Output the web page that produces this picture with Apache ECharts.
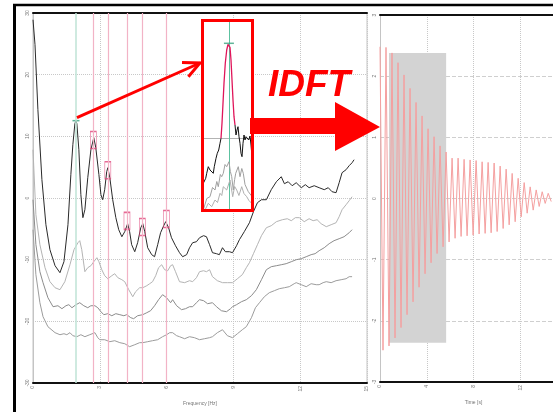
<!DOCTYPE html>
<html>
<head>
<meta charset="utf-8">
<script src="https://cdn.jsdelivr.net/npm/echarts/dist/echarts.min.js"></script>
<style>
html,body{margin:0;padding:0;background:#fff}
#c{width:553px;height:412px}
</style>
</head>
<body>
<div id="c"></div>
<script>
// ---- spectra: [frequency Hz, level dB] ----
const specTop = [[0,28.91],[0.09,24.86],[0.22,14.32],[0.40,2.97],[0.58,-4.33],[0.76,-8.38],[0.99,-10.98],[1.21,-12.11],[1.39,-10.33],[1.57,-4.33],[1.70,3.78],[1.79,8.64],[1.88,12.05],[1.93,12.54],[1.97,12.05],[2.06,7.83],[2.15,0.54],[2.24,-3.19],[2.33,-1.90],[2.46,3.29],[2.60,7.83],[2.73,9.78],[2.82,8.16],[2.96,3.78],[3.05,0.54],[3.13,-0.28],[3.22,1.35],[3.31,4.26],[3.36,4.91],[3.45,3.29],[3.58,-0.28],[3.72,-3.19],[3.85,-5.14],[3.99,-6.28],[4.12,-5.46],[4.25,-4.17],[4.34,-5.46],[4.43,-7.57],[4.57,-8.71],[4.70,-7.25],[4.84,-4.82],[4.93,-4.17],[5.02,-5.46],[5.15,-8.06],[5.33,-9.19],[5.46,-9.52],[5.60,-7.57],[5.73,-5.63],[5.87,-4.49],[5.96,-3.84],[6.09,-4.82],[6.22,-6.44],[6.40,-7.74],[6.58,-8.87],[6.72,-9.52],[6.90,-9.19],[7.03,-8.06],[7.17,-7.25],[7.34,-7.09],[7.48,-6.44],[7.66,-6.11],[7.79,-6.28],[7.93,-7.57],[8.06,-8.87],[8.24,-9.03],[8.37,-9.19],[8.51,-8.06],[8.64,-8.71],[8.82,-8.71],[8.96,-8.87],[9.14,-7.74],[9.27,-6.76],[9.49,-5.46],[9.72,-4.01],[9.90,-2.22],[10.08,-0.76],[10.26,-0.28],[10.48,-0.28],[10.70,1.35],[10.93,2.64],[11.15,3.45],[11.29,2.32],[11.46,2.64],[11.64,1.99],[11.82,2.48],[12.05,1.67],[12.23,2.16],[12.40,1.67],[12.63,1.99],[12.85,1.67],[13.08,1.35],[13.26,1.67],[13.43,1.02],[13.61,0.86],[13.75,2.48],[13.88,4.10],[14.06,4.59],[14.20,5.24],[14.33,5.72],[14.42,6.21]];

const specB = [[0,7.83],[0.13,-2.71],[0.31,-7.57],[0.54,-11.30],[0.76,-13.57],[0.99,-14.55],[1.21,-14.87],[1.43,-13.57],[1.66,-10.82],[1.84,-8.38],[2.02,-7.25],[2.10,-6.92],[2.19,-8.38],[2.33,-11.95],[2.46,-11.30],[2.60,-10.98],[2.73,-10.33],[2.87,-9.68],[2.96,-10.33],[3.09,-11.63],[3.22,-12.60],[3.36,-13.09],[3.54,-12.60],[3.67,-12.28],[3.81,-12.92],[3.99,-13.25],[4.12,-13.57],[4.30,-14.87],[4.48,-16.01],[4.61,-15.19],[4.79,-14.55],[4.93,-14.55],[5.11,-14.22],[5.24,-13.90],[5.37,-13.57],[5.51,-12.60],[5.64,-11.30],[5.78,-10.82],[5.91,-11.63],[6.05,-11.79],[6.18,-10.98],[6.27,-10.82],[6.40,-11.95],[6.58,-13.57],[6.81,-13.73],[7.03,-13.41],[7.17,-13.57],[7.34,-12.92],[7.48,-11.95],[7.66,-11.79],[7.79,-11.95],[7.93,-11.63],[8.06,-12.76],[8.28,-13.41],[8.51,-13.73],[8.73,-13.73],[8.96,-13.73],[9.18,-13.09],[9.40,-12.44],[9.58,-11.30],[9.72,-10.49],[9.90,-9.03],[10.08,-7.57],[10.26,-6.11],[10.48,-4.82],[10.70,-4.49],[10.93,-3.84],[11.20,-3.52],[11.42,-3.36],[11.60,-3.68],[11.78,-3.19],[11.96,-3.19],[12.18,-3.84],[12.40,-3.36],[12.58,-3.68],[12.76,-3.52],[12.94,-4.17],[13.17,-4.65],[13.39,-4.33],[13.61,-4.01],[13.75,-3.03],[13.88,-1.90],[14.06,-1.09],[14.20,-0.44],[14.33,0.21]];

const specC = [[0,-0.28],[0.13,-7.57],[0.31,-11.95],[0.45,-13.73],[0.67,-16.17],[0.90,-17.63],[1.12,-17.47],[1.30,-17.95],[1.48,-17.47],[1.61,-17.30],[1.75,-17.79],[1.93,-17.30],[2.10,-16.98],[2.28,-17.47],[2.46,-17.79],[2.60,-17.47],[2.78,-17.47],[2.91,-17.79],[3.05,-18.44],[3.18,-18.92],[3.36,-18.76],[3.54,-19.09],[3.72,-18.76],[3.90,-18.92],[4.08,-19.09],[4.21,-18.92],[4.39,-19.41],[4.52,-19.57],[4.70,-19.09],[4.93,-18.92],[5.11,-18.60],[5.28,-18.28],[5.46,-17.47],[5.64,-16.49],[5.82,-15.68],[6.00,-16.17],[6.18,-16.98],[6.27,-16.49],[6.45,-17.47],[6.67,-18.11],[6.85,-17.95],[7.03,-17.63],[7.17,-17.63],[7.34,-16.98],[7.48,-16.49],[7.66,-16.65],[7.84,-17.14],[8.06,-16.98],[8.24,-17.63],[8.46,-18.28],[8.69,-18.44],[8.87,-17.95],[8.96,-17.63],[9.14,-17.30],[9.36,-16.82],[9.58,-16.49],[9.81,-15.84],[10.03,-14.87],[10.26,-13.25],[10.48,-11.63],[10.70,-11.14],[10.93,-10.98],[11.15,-10.82],[11.37,-10.65],[11.60,-10.33],[11.82,-10.01],[12.05,-9.84],[12.27,-9.52],[12.49,-9.19],[12.67,-9.03],[12.85,-8.55],[13.08,-8.06],[13.30,-7.41],[13.52,-6.92],[13.75,-6.60],[13.97,-6.28],[14.20,-5.63],[14.33,-5.14]];

const specD = [[0,-5.14],[0.13,-12.44],[0.31,-16.98],[0.45,-19.25],[0.67,-20.87],[0.99,-21.84],[1.21,-22.17],[1.39,-22.01],[1.52,-22.17],[1.66,-21.84],[1.79,-22.33],[1.97,-22.49],[2.15,-22.17],[2.33,-22.49],[2.55,-22.17],[2.78,-21.84],[2.91,-22.65],[3.00,-22.98],[3.22,-22.98],[3.45,-23.30],[3.67,-23.14],[3.90,-23.46],[4.12,-23.63],[4.34,-24.11],[4.57,-23.79],[4.79,-23.46],[4.93,-23.46],[5.15,-23.30],[5.37,-23.14],[5.60,-22.98],[5.82,-22.49],[6.00,-22.17],[6.14,-21.84],[6.27,-21.84],[6.45,-22.33],[6.58,-22.49],[6.81,-22.82],[7.03,-22.49],[7.25,-22.65],[7.48,-22.98],[7.70,-22.82],[7.93,-22.65],[8.06,-22.49],[8.28,-21.84],[8.51,-21.36],[8.73,-22.33],[8.96,-22.65],[9.18,-22.01],[9.40,-21.36],[9.58,-20.87],[9.81,-19.41],[9.99,-17.79],[10.17,-16.98],[10.39,-16.01],[10.61,-15.36],[10.84,-15.03],[11.06,-14.71],[11.29,-14.55],[11.51,-14.38],[11.73,-13.90],[11.82,-13.73],[12.05,-14.06],[12.27,-14.38],[12.49,-13.90],[12.72,-14.06],[12.85,-14.06],[13.03,-13.73],[13.17,-13.57],[13.39,-13.73],[13.61,-13.41],[13.84,-13.25],[14.06,-13.09],[14.20,-12.76],[14.33,-12.76]];

// selected mode and its neighbouring peaks
const selectedFreq = 1.93;
const selectedLevel = 12.54;
const peakFreqs  = [2.71, 3.36, 4.22, 4.91, 5.99];
const peakLevels = [9.4, 4.5, -3.7, -4.7, -3.4];

// ---- zoomed view around the selected mode ----
const zoomLeft  = [[1.571,2.72],[1.605,3.22],[1.619,3.72],[1.641,4.38],[1.665,4.05],[1.689,4.22],[1.711,3.72],[1.725,4.38],[1.749,5.22],[1.767,5.72],[1.787,6.05],[1.805,6.72],[1.819,7.22]];
const zoomPeak  = [[1.819,7.22],[1.833,8.72],[1.847,10.72],[1.861,12.72],[1.879,14.72],[1.899,16.05],[1.917,16.62],[1.931,16.72],[1.945,16.32],[1.959,15.05],[1.973,13.05],[1.987,11.05],[2.001,9.38],[2.015,8.55]];
const zoomRight = [[2.015,8.55],[2.029,7.55],[2.043,8.05],[2.057,8.38],[2.071,7.38],[2.085,6.72],[2.099,5.72],[2.113,5.38],[2.127,6.72],[2.141,7.55],[2.155,7.05],[2.169,7.38],[2.187,7.55],[2.207,7.05],[2.225,7.45],[2.239,6.55],[2.253,5.38]];
const zoomGrayA = [[1.571,0.05],[1.62,1.2],[1.665,1.38],[1.70,2.3],[1.735,2.05],[1.76,2.9],[1.781,2.38],[1.81,3.6],[1.829,3.38],[1.851,3.72],[1.875,4.6],[1.899,4.38],[1.931,4.88],[1.95,3.9],[1.969,3.38],[1.991,2.05],[2.01,3.1],[2.025,3.72],[2.061,4.38],[2.085,3.38],[2.11,4.2],[2.131,3.72],[2.155,2.6],[2.179,2.72],[2.20,1.9],[2.225,2.05],[2.255,1.38]];
const zoomGrayB = [[1.595,0.05],[1.641,0.72],[1.689,0.38],[1.735,1.05],[1.77,0.8],[1.805,1.72],[1.83,1.5],[1.851,2.38],[1.899,2.05],[1.945,3.05],[1.983,1.38],[2.01,2.4],[2.039,2.05],[2.07,1.5],[2.109,2.38],[2.14,1.7],[2.179,1.38],[2.21,1.0],[2.249,0.72]];
const zoomGuide = 7.25;

// ---- reconstructed time signal (IDFT of the selected peak) ----
const halfPeriod = 0.257;   // s, half cycle of the 1.93 Hz mode
const crestValues  = [2.48,2.47,2.38,2.22,2.02,1.80,1.57,1.35,1.14,1.01,0.86,0.76,0.66,0.66,0.64,0.63,0.62,0.60,0.59,0.58,0.53,0.48,0.41,0.33,0.26,0.19,0.14,0.11,0.085];
const troughValues = [-2.48,-2.41,-2.28,-2.11,-1.90,-1.69,-1.45,-1.23,-1.05,-0.90,-0.79,-0.71,-0.65,-0.62,-0.61,-0.60,-0.58,-0.57,-0.56,-0.54,-0.49,-0.43,-0.38,-0.30,-0.24,-0.19,-0.13,-0.08,-0.05];
const fitWindow = {t0: 0.77, t1: 5.66, lo: -2.36, hi: 2.38};

const signal = [];
crestValues.forEach((c, k) => {
  signal.push([2 * k * halfPeriod, c]);
  signal.push([(2 * k + 1) * halfPeriod, troughValues[k]]);
});

const FONT = 'Liberation Sans';
const tinyLabel = {rotate: 90, fontSize: 5, color: '#777', fontFamily: FONT, margin: 3};

const chart = echarts.init(document.getElementById('c'), null, {renderer: 'canvas'});

const option = {
  animation: false,
  backgroundColor: '#fff',
  grid: [
    {left: 33, width: 334, top: 13, height: 370, show: true, borderColor: '#c4c4c4', borderWidth: 1,
     outerBoundsMode: 'none', containLabel: false},
    {left: 380, width: 187, top: 15, height: 367, show: false,
     outerBoundsMode: 'none', containLabel: false},
    {left: 202.5, top: 20.5, width: 50, height: 190, show: true, z: 5, backgroundColor: '#fff', borderWidth: 0,
     outerBoundsMode: 'none', containLabel: false}
  ],
  xAxis: [
    {gridIndex: 0, type: 'value', min: 0, max: 15, interval: 3, position: 'bottom',
     axisLine: {onZero: false, lineStyle: {color: '#111', width: 2}}, axisTick: {show: false},
     axisLabel: tinyLabel,
     splitLine: {show: true, lineStyle: {color: '#c8c8c8', type: 'dotted'}},
     name: 'Frequency [Hz]', nameLocation: 'middle', nameGap: 18,
     nameTextStyle: {fontSize: 5, color: '#777', fontFamily: FONT}},
    {gridIndex: 0, type: 'value', min: 0, max: 15, position: 'top',
     axisLine: {show: true, onZero: false, lineStyle: {color: '#111', width: 2}}, axisTick: {show: false},
     axisLabel: {show: false}, splitLine: {show: false}},
    {gridIndex: 1, type: 'value', min: 0, max: 16, interval: 4, position: 'bottom',
     axisLine: {onZero: false, lineStyle: {color: '#111', width: 2}}, axisTick: {show: false},
     axisLabel: tinyLabel,
     splitLine: {show: true, lineStyle: {color: '#c8c8c8', type: 'dotted'}},
     name: 'Time [s]', nameLocation: 'middle', nameGap: 18,
     nameTextStyle: {fontSize: 5, color: '#777', fontFamily: FONT}},
    {gridIndex: 1, type: 'value', min: 0, max: 16, position: 'top',
     axisLine: {show: true, onZero: false, lineStyle: {color: '#111', width: 2}}, axisTick: {show: false},
     axisLabel: {show: false}, splitLine: {show: false}},
    {gridIndex: 2, type: 'value', min: 1.56, max: 2.26, show: false}
  ],
  yAxis: [
    {gridIndex: 0, type: 'value', min: -30, max: 30, interval: 10,
     axisLine: {show: true, onZero: false, lineStyle: {color: '#c4c4c4'}}, axisTick: {show: false},
     axisLabel: tinyLabel,
     splitLine: {show: true, lineStyle: {color: '#c8c8c8', type: 'dotted'}}},
    {gridIndex: 1, type: 'value', min: -3, max: 3, interval: 1,
     axisLine: {show: true, onZero: false, lineStyle: {color: '#c4c4c4'}}, axisTick: {show: false},
     axisLabel: tinyLabel,
     splitLine: {show: true, lineStyle: {color: '#cfcfcf', type: 'dashed'}}},
    {gridIndex: 2, type: 'value', min: 0, max: 19, show: false}
  ],
  series: [
    // mode guide lines on the spectrum
    {type: 'line', xAxisIndex: 0, yAxisIndex: 0, data: [], z: 1, silent: true,
     markLine: {symbol: 'none', silent: true, label: {show: false},
       data: [{xAxis: selectedFreq, lineStyle: {color: '#bfe3d6', width: 1.5, type: 'solid'}}]
         .concat(peakFreqs.map(f => ({xAxis: f, lineStyle: {color: '#f2b3c6', width: 1.2, type: 'solid'}})))}},
    {type: 'line', xAxisIndex: 0, yAxisIndex: 0, data: specD, showSymbol: false, z: 2,
     lineStyle: {color: '#9c9c9c', width: 1}},
    {type: 'line', xAxisIndex: 0, yAxisIndex: 0, data: specC, showSymbol: false, z: 2,
     lineStyle: {color: '#8c8c8c', width: 1}},
    {type: 'line', xAxisIndex: 0, yAxisIndex: 0, data: specB, showSymbol: false, z: 2,
     lineStyle: {color: '#b4b4b4', width: 1}},
    {type: 'line', xAxisIndex: 0, yAxisIndex: 0, data: specTop, showSymbol: false, z: 3,
     lineStyle: {color: '#2a2a2a', width: 1}},
    // boxes around the neighbouring peaks
    {type: 'scatter', xAxisIndex: 0, yAxisIndex: 0, z: 4, silent: true,
     data: peakFreqs.map((f, i) => [f, peakLevels[i]]),
     symbol: 'rect', symbolSize: [6, 17],
     itemStyle: {color: 'rgba(255,255,255,0)', borderColor: '#e0457b', borderWidth: 1}},
    // tick on top of the selected peak
    {type: 'scatter', xAxisIndex: 0, yAxisIndex: 0, z: 4, silent: true,
     data: [[selectedFreq, selectedLevel]], symbol: 'rect', symbolSize: [7, 1.5],
     itemStyle: {color: '#3aa37f'}},

    // time signal and analysis window
    {type: 'line', xAxisIndex: 2, yAxisIndex: 1, data: [], z: 1, silent: true,
     markArea: {silent: true, itemStyle: {color: '#d3d3d3'},
       data: [[{coord: [fitWindow.t0, fitWindow.hi]}, {coord: [fitWindow.t1, fitWindow.lo]}]]}},
    {type: 'line', xAxisIndex: 2, yAxisIndex: 1, data: signal, showSymbol: false, z: 3,
     lineStyle: {color: '#f5a0a0', width: 1}},

    // zoomed view
    {type: 'line', xAxisIndex: 4, yAxisIndex: 2, data: [], z: 6, silent: true,
     markLine: {symbol: 'none', silent: true, label: {show: false},
       data: [{yAxis: zoomGuide, lineStyle: {color: '#666', width: 1, type: 'dotted'}},
              {xAxis: selectedFreq, lineStyle: {color: '#5cc2a0', width: 1, type: 'solid'}}]}},
    {type: 'line', xAxisIndex: 4, yAxisIndex: 2, data: zoomGrayB, showSymbol: false, z: 7,
     lineStyle: {color: '#b0b0b0', width: 1}},
    {type: 'line', xAxisIndex: 4, yAxisIndex: 2, data: zoomGrayA, showSymbol: false, z: 7,
     lineStyle: {color: '#a0a0a0', width: 1}},
    {type: 'line', xAxisIndex: 4, yAxisIndex: 2, data: zoomLeft, showSymbol: false, z: 8,
     lineStyle: {color: '#111', width: 1}},
    {type: 'line', xAxisIndex: 4, yAxisIndex: 2, data: zoomRight, showSymbol: false, z: 8,
     lineStyle: {color: '#111', width: 1}},
    {type: 'line', xAxisIndex: 4, yAxisIndex: 2, data: zoomPeak, showSymbol: false, z: 9,
     lineStyle: {color: '#e0155a', width: 1.3}},
    {type: 'scatter', xAxisIndex: 4, yAxisIndex: 2, z: 10, silent: true,
     data: [[selectedFreq, zoomPeak[7][1]]], symbol: 'rect', symbolSize: [10, 1.5],
     itemStyle: {color: '#3aa37f'}}
  ]
};

chart.setOption(option);

// annotations: frame, zoom box, arrows and label
const pk = chart.convertToPixel({xAxisIndex: 0, yAxisIndex: 0}, [selectedFreq, selectedLevel]);
const tail = [pk[0] + 1, pk[1] - 3];
const tip = [200, 63];
const ang = Math.atan2(tip[1] - tail[1], tip[0] - tail[0]);
const arm = 18, spread = 0.45;
const armA = [tip[0] - arm * Math.cos(ang - spread), tip[1] - arm * Math.sin(ang - spread)];
const armB = [tip[0] - arm * Math.cos(ang + spread), tip[1] - arm * Math.sin(ang + spread)];

chart.setOption({
  graphic: [
    {type: 'line', z: 100, shape: {x1: 14.5, y1: 4, x2: 14.5, y2: 412}, style: {stroke: '#000', lineWidth: 3}},
    {type: 'line', z: 100, shape: {x1: 13, y1: 5, x2: 553, y2: 5}, style: {stroke: '#000', lineWidth: 2.5}},
    {type: 'rect', z: 100, shape: {x: 202.5, y: 20.5, width: 50, height: 190},
     style: {fill: null, stroke: '#ff0000', lineWidth: 3}},
    {type: 'polyline', z: 101, shape: {points: [tail, tip]}, style: {stroke: '#ff0000', lineWidth: 3, fill: null}},
    {type: 'polyline', z: 101, shape: {points: [armA, tip, armB]}, style: {stroke: '#ff0000', lineWidth: 3, fill: null}},
    {type: 'polygon', z: 101, shape: {points: [[250,118],[335,118],[335,102],[380,127],[335,151],[335,134],[250,134]]},
     style: {fill: '#ff0000'}},
    {type: 'text', z: 101, x: 268, y: 86,
     style: {text: 'IDFT', font: 'italic bold 37px "Liberation Sans"', fill: '#ff0000', verticalAlign: 'middle', align: 'left'}}
  ]
});
</script>
</body>
</html>
